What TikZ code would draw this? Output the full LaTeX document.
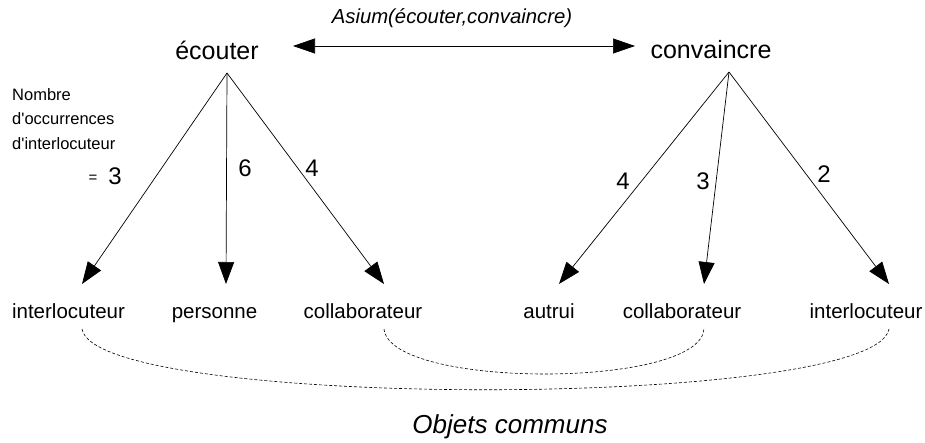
\documentclass[tikz,border=0pt]{standalone}
\usepackage{fontspec}
\setmainfont{Liberation Sans}
\usetikzlibrary{arrows.meta}
\begin{document}
\begin{tikzpicture}[x=1pt,y=-1pt,
  conn/.style={line width=0.7pt,-{Triangle[length=22pt,width=16pt]}},
  biconn/.style={line width=0.7pt,{Triangle[length=22pt,width=15pt]}-{Triangle[length=22pt,width=15pt]}},
  verb/.style={anchor=base,inner sep=0pt,font=\fontsize{25}{30}\selectfont},
  leaf/.style={anchor=base,inner sep=0pt,font=\fontsize{20.5}{24}\selectfont},
  num/.style={anchor=base,inner sep=0pt,font=\fontsize{24}{28}\selectfont},
  note/.style={anchor=base west,inner sep=0pt,font=\fontsize{16.5}{20}\selectfont},
  common/.style={line width=0.6pt,dashed,dash pattern=on 3pt off 2pt}]
\useasboundingbox (0,0) rectangle (925,443);
% title
\node[anchor=base,inner sep=0pt,font=\fontsize{20.3}{24}\selectfont\itshape] (asium) at (452,24) {Asium(écouter,convaincre)};
% verbs
\node[verb] (ecouter) at (217,60) {écouter};
\node[verb] (convaincre) at (711,59) {convaincre};
\coordinate (arrL) at (293,46);
\coordinate (arrR) at (635,46);
\draw[biconn] (arrL) -- (arrR);
% apexes
\coordinate (eA) at (227,73);
\coordinate (cA) at (729,72);
% leaves
\node[leaf] (iL) at (68.5,318) {interlocuteur};
\node[leaf] (pL) at (214.5,318) {personne};
\node[leaf] (cL) at (363,318) {collaborateur};
\node[leaf] (aR) at (549,318) {autrui};
\node[leaf] (cR) at (682,318) {collaborateur};
\node[leaf] (iR) at (866,318) {interlocuteur};
% arrow tips
\coordinate (tiL) at (82,284);
\coordinate (tpL) at (226,284);
\coordinate (tcL) at (384,284);
\coordinate (taR) at (559,284);
\coordinate (tcR) at (704,284);
\coordinate (tiR) at (889,284);
\draw[conn] (eA) -- (tiL);
\draw[conn] (eA) -- (tpL);
\draw[conn] (eA) -- (tcL);
\draw[conn] (cA) -- (taR);
\draw[conn] (cA) -- (tcR);
\draw[conn] (cA) -- (tiR);
% numbers
\node[num] (n6) at (245,177) {6};
\node[num] (n4a) at (312,177) {4};
\node[num] (n3a) at (115,185) {3};
\node[inner sep=0pt,font=\fontsize{15}{18}\selectfont] (eq) at (93,179) {=};
\node[num] (n4b) at (623,190) {4};
\node[num] (n3b) at (703,190) {3};
\node[num] (n2) at (824,183) {2};
% note
\node[note] (nb1) at (12,101) {Nombre};
\node[note] (nb2) at (12,125) {d\textquotesingle occurrences};
\node[note] (nb3) at (12,150) {d\textquotesingle interlocuteur};
% common objects
\coordinate (biL) at (82,329);
\coordinate (biR) at (889,329);
\coordinate (bcL) at (384,329);
\coordinate (bcR) at (704,329);
\draw[common] (biL) .. controls (95,410) and (875,410) .. (biR);
\draw[common] (bcL) .. controls (390,389) and (700,389) .. (bcR);
\node[anchor=base,inner sep=0pt,font=\fontsize{26}{30}\selectfont\itshape] (objets) at (510,433) {Objets communs};
\end{tikzpicture}
\end{document}
